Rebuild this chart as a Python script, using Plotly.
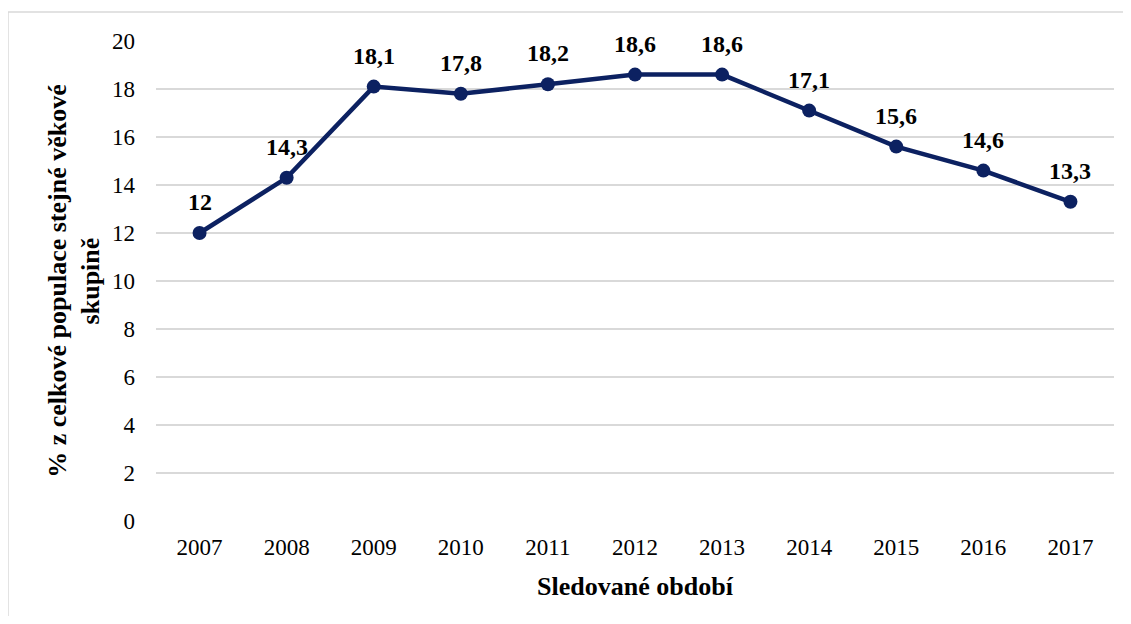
import plotly.graph_objects as go

# data
roky = ["2007", "2008", "2009", "2010", "2011", "2012", "2013", "2014", "2015", "2016", "2017"]
hodnoty = [12, 14.3, 18.1, 17.8, 18.2, 18.6, 18.6, 17.1, 15.6, 14.6, 13.3]
popisky = [str(v).replace(".", ",") for v in hodnoty]

FONT = "Liberation Serif, serif"
BARVA = "#0C2161"

fig = go.Figure(
    go.Scatter(
        x=roky,
        y=hodnoty,
        mode="lines+markers",
        line=dict(color=BARVA, width=4.5),
        marker=dict(color=BARVA, size=14),
        showlegend=False,
    )
)

# popisky dat nad body (x jako index kategorie)
for i, (hod, txt) in enumerate(zip(hodnoty, popisky)):
    fig.add_annotation(
        x=i, y=hod, text=f"<b>{txt}</b>",
        showarrow=False, yshift=31, yanchor="middle",
        font=dict(family=FONT, size=24, color="#000000"),
    )

# stránka má okraj 8 px, proto menší rozměry a posunuté okraje
fig.update_layout(
    width=1115,
    height=608,
    margin=dict(l=148, r=9, t=33, b=95),
    paper_bgcolor="white",
    plot_bgcolor="white",
    font=dict(family=FONT, color="#000000"),
    xaxis=dict(
        type="category",
        range=[-0.5, len(roky) - 0.5],
        automargin=False,
        showgrid=False,
        showline=False,
        ticks="",
        ticklabelstandoff=10,
        tickfont=dict(size=23),
        title=dict(text="<b>Sledované období</b>", font=dict(size=26), standoff=17),
    ),
    yaxis=dict(
        range=[0, 20],
        dtick=2,
        automargin=False,
        showgrid=True,
        gridcolor="#D9D9D9",
        gridwidth=1.5,
        zeroline=False,
        showline=False,
        ticks="",
        ticklabelstandoff=20,
        tickfont=dict(size=23),
        title=dict(text="<b>% z celkové populace stejné věkové<br>skupině</b>", font=dict(size=26), standoff=4),
    ),
    shapes=[
        dict(
            type="rect", xref="paper", yref="paper",
            x0=-0.1545, x1=1.03, y0=-0.25, y1=1.0604,
            line=dict(color="#D9D9D9", width=1.5),
            fillcolor="rgba(0,0,0,0)",
            layer="below",
        )
    ],
)

fig.write_html("out.html")
